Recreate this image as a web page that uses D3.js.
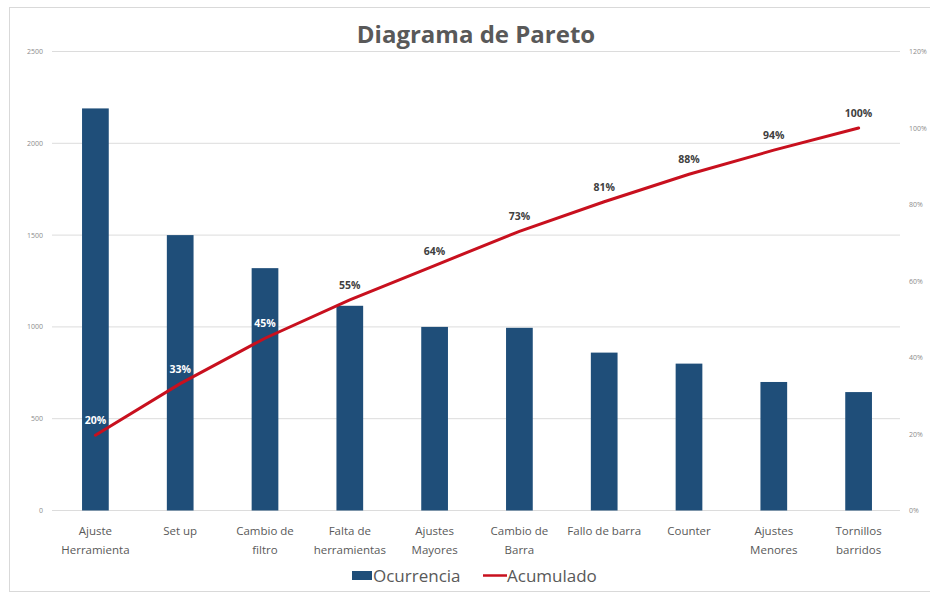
<!DOCTYPE html>
<meta charset="utf-8" />
<script src="https://d3js.org/d3.v7.min.js"></script>
<head>
<style type="text/css">
  body { margin: 0; background: #fff; }
  text { font-family: "Open Sans", sans-serif; }
  .tick-label { font-size: 7px; fill: #8c8c8c; }
  .cat-label { font-size: 11.5px; fill: #595959; }
  .pct-label { font-size: 10.5px; font-weight: bold; }
</style>
</head>
<body>
<svg id="chart" width="930" height="594"></svg>
<script>
  // categories (lines of each x label)
  const categories = [
    ["Ajuste", "Herramienta"],
    ["Set up"],
    ["Cambio de", "filtro"],
    ["Falta de", "herramientas"],
    ["Ajustes", "Mayores"],
    ["Cambio de", "Barra"],
    ["Fallo de barra"],
    ["Counter"],
    ["Ajustes", "Menores"],
    ["Tornillos", "barridos"]
  ];
  // Ocurrencia values
  const ocurrencia = [2190, 1500, 1320, 1115, 1000, 995, 860, 800, 700, 645];
  const leftTicks = [0, 500, 1000, 1500, 2000, 2500];
  const rightTicks = [0, 0.2, 0.4, 0.6, 0.8, 1.0, 1.2];

  const total = d3.sum(ocurrencia);
  let running = 0;
  const acumulado = ocurrencia.map(v => (running += v) / total);

  const svg = d3.select("#chart");

  // outer frame
  svg.append("rect")
    .attr("x", 9.5).attr("y", 7.5)
    .attr("width", 930).attr("height", 584)
    .attr("fill", "#fff")
    .attr("stroke", "#d9d9d9");

  const x = d3.scaleBand()
    .domain(d3.range(categories.length))
    .range([53, 901])
    .paddingInner(0.685)
    .paddingOuter(0.3425);

  const y = d3.scaleLinear().domain([0, 2500]).range([510.5, 51.5]);
  const y2 = d3.scaleLinear().domain([0, 1.2]).range([510.5, 51.5]);

  // gridlines
  svg.append("g")
    .selectAll("line")
    .data(leftTicks)
    .enter()
    .append("line")
    .attr("x1", 52).attr("x2", 900)
    .attr("y1", d => y(d)).attr("y2", d => y(d))
    .attr("stroke", "#dcdcdc")
    .attr("stroke-width", 1);

  // left axis labels
  svg.append("g")
    .selectAll("text")
    .data(leftTicks)
    .enter()
    .append("text")
    .attr("class", "tick-label")
    .attr("x", 43)
    .attr("y", d => y(d) + 2.5)
    .attr("text-anchor", "end")
    .text(d => d);

  // right axis labels
  svg.append("g")
    .selectAll("text")
    .data(rightTicks)
    .enter()
    .append("text")
    .attr("class", "tick-label")
    .attr("x", 909)
    .attr("y", d => y2(d) + 2.5)
    .text(d => Math.round(d * 100) + "%");

  // bars
  svg.append("g")
    .selectAll("rect")
    .data(ocurrencia)
    .enter()
    .append("rect")
    .attr("x", (d, i) => x(i))
    .attr("y", d => y(d))
    .attr("width", x.bandwidth())
    .attr("height", d => y(0) - y(d))
    .attr("fill", "#1f4e79");

  // cumulative line
  const line = d3.line()
    .x((d, i) => x(i) + x.bandwidth() / 2)
    .y(d => y2(d));

  svg.append("path")
    .datum(acumulado)
    .attr("d", line)
    .attr("fill", "none")
    .attr("stroke", "#c8101e")
    .attr("stroke-width", 3)
    .attr("stroke-linecap", "round");

  // cumulative labels
  svg.append("g")
    .selectAll("text")
    .data(acumulado)
    .enter()
    .append("text")
    .attr("class", "pct-label")
    .attr("x", (d, i) => x(i) + x.bandwidth() / 2)
    .attr("y", d => y2(d) - 11)
    .attr("text-anchor", "middle")
    .attr("fill", (d, i) => i < 3 ? "#ffffff" : "#404040")
    .text(d => Math.round(d * 100) + "%");

  // category labels
  const cats = svg.append("g")
    .selectAll("text")
    .data(categories)
    .enter()
    .append("text")
    .attr("class", "cat-label")
    .attr("text-anchor", "middle")
    .attr("x", (d, i) => x(i) + x.bandwidth() / 2)
    .attr("y", 535);
  cats.selectAll("tspan")
    .data(d => d)
    .enter()
    .append("tspan")
    .attr("x", function () { return d3.select(this.parentNode).attr("x"); })
    .attr("dy", (d, i) => i === 0 ? 0 : 19)
    .text(d => d);

  // title
  svg.append("text")
    .attr("x", 476)
    .attr("y", 43)
    .attr("text-anchor", "middle")
    .attr("font-size", 24)
    .attr("font-weight", "bold")
    .attr("fill", "#595959")
    .text("Diagrama de Pareto");

  // legend
  const legend = svg.append("g");
  legend.append("rect")
    .attr("x", 352).attr("y", 571)
    .attr("width", 20).attr("height", 9)
    .attr("fill", "#1f4e79");
  legend.append("text")
    .attr("x", 373).attr("y", 582)
    .attr("font-size", 17)
    .attr("fill", "#595959")
    .text("Ocurrencia");
  legend.append("line")
    .attr("x1", 483).attr("x2", 507)
    .attr("y1", 575.5).attr("y2", 575.5)
    .attr("stroke", "#c8101e")
    .attr("stroke-width", 2.5);
  legend.append("text")
    .attr("x", 507).attr("y", 582)
    .attr("font-size", 17)
    .attr("fill", "#595959")
    .text("Acumulado");
</script>
</body>
</html>
